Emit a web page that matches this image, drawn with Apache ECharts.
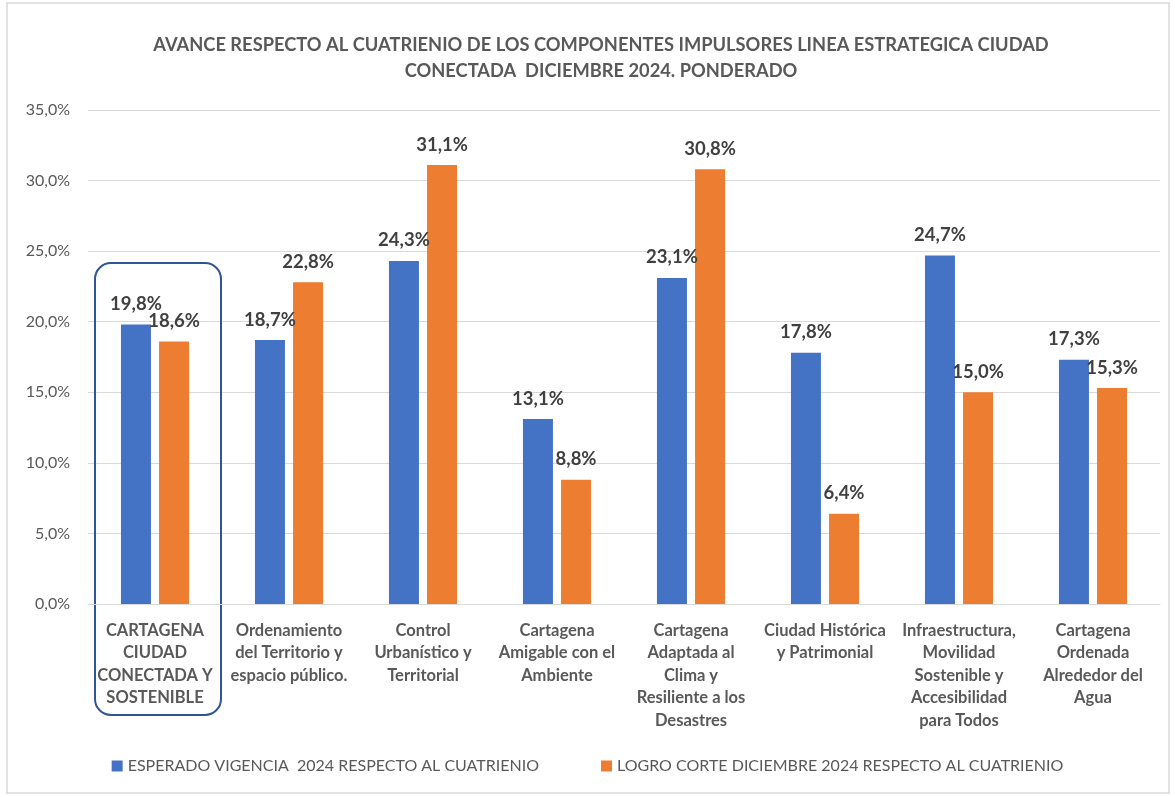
<!DOCTYPE html>
<html lang="es">
<head>
    <meta charset="UTF-8">
    <title>Avance respecto al cuatrienio</title>
    <script src="https://cdn.jsdelivr.net/npm/echarts@6/dist/echarts.min.js"></script>
    <style>
        html, body { margin: 0; padding: 0; background: #fff; }
        #main { width: 1175px; height: 797px; }
    </style>
</head>
<body>
<div id="main"></div>
<script type="text/javascript">
    // datos
    var categorias = [
        'CARTAGENA\nCIUDAD\nCONECTADA Y\nSOSTENIBLE',
        'Ordenamiento\ndel Territorio y\nespacio público.',
        'Control\nUrbanístico y\nTerritorial',
        'Cartagena\nAmigable con el\nAmbiente',
        'Cartagena\nAdaptada al\nClima y\nResiliente a los\nDesastres',
        'Ciudad Histórica\ny Patrimonial',
        'Infraestructura,\nMovilidad\nSostenible y\nAccesibilidad\npara Todos',
        'Cartagena\nOrdenada\nAlrededor del\nAgua'
    ];
    var esperado = [19.8, 18.7, 24.3, 13.1, 23.1, 17.8, 24.7, 17.3];
    var logro = [18.6, 22.8, 31.1, 8.8, 30.8, 6.4, 15.0, 15.3];
    var nombreEsperado = 'ESPERADO VIGENCIA  2024 RESPECTO AL CUATRIENIO';
    var nombreLogro = 'LOGRO CORTE DICIEMBRE 2024 RESPECTO AL CUATRIENIO';

    function pct(v) {
        return v.toFixed(1).replace('.', ',') + '%';
    }

    var myChart = echarts.init(document.getElementById('main'));
    var fuente = 'Lato';

    var etiqueta = {
        show: true,
        position: 'top',
        distance: 11,
        fontFamily: fuente,
        fontWeight: 'bold',
        fontSize: 18.5,
        color: '#404040',
        formatter: function (p) { return pct(p.value); }
    };

    option = {
        animation: false,
        title: {
            text: 'AVANCE RESPECTO AL CUATRIENIO DE LOS COMPONENTES IMPULSORES LINEA ESTRATEGICA CIUDAD\nCONECTADA  DICIEMBRE 2024. PONDERADO',
            left: 596,
            textAlign: 'center',
            top: 27,
            textStyle: {
                fontFamily: fuente,
                fontWeight: 'bold',
                fontSize: 18.3,
                color: '#595959',
                lineHeight: 26
            }
        },
        legend: {
            bottom: 18,
            left: 'center',
            itemWidth: 11,
            itemHeight: 11,
            itemGap: 62,
            icon: 'rect',
            textStyle: {
                fontFamily: fuente,
                fontSize: 16,
                color: '#595959'
            },
            data: [nombreEsperado, nombreLogro]
        },
        grid: {
            left: 88,
            right: 15,
            top: 110,
            bottom: 193
        },
        xAxis: {
            type: 'category',
            data: categorias,
            axisTick: { show: false },
            axisLine: { lineStyle: { color: '#d9d9d9', width: 1 } },
            axisLabel: {
                interval: 0,
                margin: 15,
                fontFamily: fuente,
                fontWeight: 'bold',
                fontSize: 16.5,
                lineHeight: 22.5,
                color: '#595959'
            }
        },
        yAxis: {
            type: 'value',
            min: 0,
            max: 35,
            interval: 5,
            axisLine: { show: false },
            axisTick: { show: false },
            splitLine: { lineStyle: { color: '#d9d9d9', width: 1 } },
            axisLabel: {
                margin: 18,
                fontFamily: fuente,
                fontSize: 16,
                color: '#595959',
                formatter: function (v) { return pct(v); }
            }
        },
        series: [
            {
                name: nombreEsperado,
                type: 'bar',
                barWidth: 30,
                barGap: '27%',
                itemStyle: { color: '#4472C4' },
                label: etiqueta,
                data: esperado
            },
            {
                name: nombreLogro,
                type: 'bar',
                barWidth: 30,
                itemStyle: { color: '#ED7D31' },
                label: etiqueta,
                data: logro
            }
        ]
    };

    myChart.setOption(option);

    // marco exterior y recuadro del primer componente
    var cx = myChart.convertToPixel({ xAxisIndex: 0 }, 0);
    myChart.setOption({
        graphic: [
            {
                type: 'rect',
                shape: { x: 7, y: 3, width: 1162, height: 790 },
                style: { fill: 'none', stroke: '#d9d9d9', lineWidth: 1.5 },
                silent: true
            },
            {
                type: 'rect',
                shape: { x: cx - 60, y: 263, width: 126, height: 452, r: 16 },
                style: { fill: 'none', stroke: '#2F5597', lineWidth: 2 },
                silent: true
            }
        ]
    });
</script>
</body>
</html>
